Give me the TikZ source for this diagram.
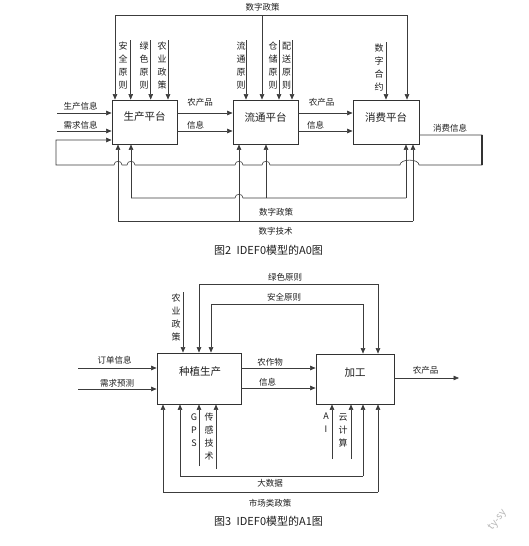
\documentclass[tikz,border=0pt]{standalone}
\usepackage{fontspec}
\setmainfont{Noto Sans CJK SC}
\usetikzlibrary{arrows.meta}
\definecolor{lc}{RGB}{60,60,60}
\definecolor{bc}{RGB}{50,50,50}
\definecolor{tc}{RGB}{30,30,30}
\begin{document}
\begin{tikzpicture}[x=1pt,y=-1pt,
  ln/.style={draw=lc, line width=0.6pt},
  arr/.style={ln, -{Triangle[length=5.5pt,width=4.5pt]}},
  box/.style={draw=bc, line width=0.8pt, inner sep=0pt},
  lab/.style={font=\fontsize{8.5}{10}\selectfont, text=tc, inner sep=0pt},
  vlab/.style={lab, align=center, font=\fontsize{9}{13}\selectfont},
  btxt/.style={font=\fontsize{10.5}{12}\selectfont, text=tc, inner sep=0pt},
  captxt/.style={font=\fontsize{11}{13}\selectfont, text=tc, inner sep=0pt}]
\fill[white] (0,0) rectangle (529,546);
\useasboundingbox (0,0) rectangle (529,546);

% ================= A0 =================
\node[box, minimum width=65pt, minimum height=44pt] (b1) at (144.5,122) {};
\node[box, minimum width=65pt, minimum height=44pt] (b2) at (265.5,122) {};
\node[box, minimum width=66pt, minimum height=44pt] (b3) at (386,122) {};
\node[btxt] (b1t) at (144.5,117) {生产平台};
\node[btxt] (b2t) at (265.5,117) {流通平台};
\node[btxt] (b3t) at (386,117) {消费平台};

% top digital policy
\coordinate (tpL) at (115,15);
\coordinate (tpM) at (262,15);
\coordinate (tpR) at (407,15);
\draw[ln] (tpL) -- (tpR);
\draw[arr] (tpL) -- (tpL |- b1.north);
\draw[arr] (tpM) -- (tpM |- b2.north);
\draw[arr] (tpR) -- (tpR |- b3.north);
\node[lab] (ltp) at (262.5,7) {数字政策};

% controls
\coordinate (k1) at (130.7,40);
\coordinate (k2) at (150.7,40);
\coordinate (k3) at (168,40);
\coordinate (k4) at (246,40);
\coordinate (k5) at (279,40);
\coordinate (k6) at (292,40);
\coordinate (k7) at (386,42);
\draw[arr] (k1) -- (k1 |- b1.north);
\draw[arr] (k2) -- (k2 |- b1.north);
\draw[arr] (k3) -- (k3 |- b1.north);
\draw[arr] (k4) -- (k4 |- b2.north);
\draw[arr] (k5) -- (k5 |- b2.north);
\draw[arr] (k6) -- (k6 |- b2.north);
\draw[arr] (k7) -- (k7 |- b3.north);
\node[vlab] (lk1) at (123,65.5) {安\\全\\原\\则};
\node[vlab] (lk2) at (144,65.5) {绿\\色\\原\\则};
\node[vlab] (lk3) at (162,65.5) {农\\业\\政\\策};
\node[vlab] (lk4) at (241,65.5) {流\\通\\原\\则};
\node[vlab] (lk5) at (273,65.5) {仓\\储\\原\\则};
\node[vlab] (lk6) at (286.5,65.5) {配\\送\\原\\则};
\node[vlab] (lk7) at (379,67.5) {数\\字\\合\\约};

% inputs
\coordinate (i1) at (57,113);
\coordinate (i2) at (57,131);
\draw[arr] (i1) -- (i1 -| b1.west);
\draw[arr] (i2) -- (i2 -| b1.west);
\node[lab] (li1) at (80.5,106.5) {生产信息};
\node[lab] (li2) at (80.5,125) {需求信息};

% outputs between platforms
\draw[arr] (b1.east |- i1) -- (b2.west |- i1);
\draw[arr] (b1.east |- i2) -- (b2.west |- i2);
\draw[arr] (b2.east |- i1) -- (b3.west |- i1);
\draw[arr] (b2.east |- i2) -- (b3.west |- i2);
\node[lab] (lo1) at (200,102) {农产品};
\node[lab] (lo2) at (195.5,125) {信息};
\node[lab] (lo3) at (321.5,102) {农产品};
\node[lab] (lo4) at (315.5,125) {信息};

% feedback loop
\coordinate (fb1) at (482,135);
\coordinate (fb2) at (482,165);
\coordinate (fb3) at (56,165);
\coordinate (fb4) at (56,140);
\draw[arr] (b3.east |- fb1) -- (fb1) -- (fb2) -- (419,165)
  .. controls (419,158.5) and (400,158.5) .. (400,165) -- (270,165)
  .. controls (270,160) and (262,160) .. (262,165) -- (243,165)
  .. controls (243,160) and (235,160) .. (235,165) -- (135,165)
  .. controls (135,160) and (127,160) .. (127,165) -- (122,165)
  .. controls (122,160) and (114,160) .. (114,165) -- (fb3) -- (fb4) -- (fb4 -| b1.west);
\draw[draw=bc, line width=2pt] (fb1) -- (fb2);
\node[lab] (lfb) at (450,128) {消费信息};

% mechanisms
\coordinate (m1) at (118,221);
\coordinate (m2) at (131,198);
\coordinate (m3) at (239,221);
\coordinate (m4) at (266,198);
\coordinate (m5) at (406,198);
\coordinate (m6) at (413,221);
\draw[ln] (m2) -- (235,198) .. controls (235,193) and (243,193) .. (243,198) -- (m5);
\draw[ln] (m1) -- (m6);
\draw[arr] (m1) -- (m1 |- b1.south);
\draw[arr] (m2) -- (m2 |- b1.south);
\draw[arr] (m3) -- (m3 |- b2.south);
\draw[arr] (m4) -- (m4 |- b2.south);
\draw[arr] (m5) -- (m5 |- b3.south);
\draw[arr] (m6) -- (m6 |- b3.south);
\node[lab] (lm1) at (276,212) {数字政策};
\node[lab] (lm2) at (275.5,231) {数字技术};

\node[captxt] (cap2) at (268.5,250) {图2\enspace IDEF0模型的A0图};

% ================= A1 =================
\node[box, minimum width=84pt, minimum height=51pt] (c1) at (199,378.5) {};
\node[box, minimum width=78pt, minimum height=50pt] (c2) at (355,379) {};
\node[btxt] (c1t) at (200,372) {种植生产};
\node[btxt] (c2t) at (355,373) {加工};

% inputs
\coordinate (j1) at (78,368);
\coordinate (j2) at (78,389);
\draw[arr] (j1) -- (j1 -| c1.west);
\draw[arr] (j2) -- (j2 -| c1.west);
\node[lab] (lj1) at (114.5,360) {订单信息};
\node[lab] (lj2) at (117,383) {需求预测};

% outputs
\coordinate (o1) at (241,368);
\coordinate (o2) at (241,388);
\coordinate (o3) at (459,378);
\draw[arr] (o1 -| c1.east) -- (o1 -| c2.west);
\draw[arr] (o2 -| c1.east) -- (o2 -| c2.west);
\draw[arr] (o3 -| c2.east) -- (o3);
\node[lab] (lo5) at (270,362) {农作物};
\node[lab] (lo6) at (267.5,382) {信息};
\node[lab] (lo7) at (425.5,370) {农产品};

% controls
\coordinate (n1) at (183,292);
\draw[arr] (n1) -- (n1 |- c1.north);
\node[vlab] (ln1) at (176,318) {农\\业\\政\\策};
\coordinate (g1) at (199,284);
\coordinate (g2) at (378,284);
\draw[ln] (g1) -- (g2);
\draw[arr] (g1) -- (g1 |- c1.north);
\draw[arr] (g2) -- (g2 |- c2.north);
\node[lab] (lg) at (285,277) {绿色原则};
\coordinate (s1) at (211,304);
\coordinate (s2) at (363,304);
\draw[ln] (s1) -- (s2);
\draw[arr] (s1) -- (s1 |- c1.north);
\draw[arr] (s2) -- (s2 |- c2.north);
\node[lab] (ls) at (284,297) {安全原则};

% mechanisms
\coordinate (p1) at (163,492);
\coordinate (p2) at (378,492);
\draw[ln] (p1) -- (p2);
\draw[arr] (p1) -- (p1 |- c1.south);
\draw[arr] (p2) -- (p2 |- c2.south);
\node[lab] (lp) at (270,503) {市场类政策};
\coordinate (d1) at (180,476);
\coordinate (d2) at (363,476);
\draw[ln] (d1) -- (d2);
\draw[arr] (d1) -- (d1 |- c1.south);
\draw[arr] (d2) -- (d2 |- c2.south);
\node[lab] (ld) at (270,483) {大数据};
\coordinate (q1) at (199,466);
\coordinate (q2) at (216,469);
\coordinate (q3) at (332,459);
\coordinate (q4) at (351,459);
\draw[arr] (q1) -- (q1 |- c1.south);
\draw[arr] (q2) -- (q2 |- c1.south);
\draw[arr] (q3) -- (q3 |- c2.south);
\draw[arr] (q4) -- (q4 |- c2.south);
\node[vlab] (lq1) at (194,430) {G\\P\\S};
\node[vlab] (lq2) at (209,436.5) {传\\感\\技\\术};
\node[vlab] (lq3) at (326,422.5) {A\\I};
\node[vlab] (lq4) at (343,430) {云\\计\\算};

\node[captxt] (cap3) at (268.5,521) {图3\enspace IDEF0模型的A1图};

\node[rotate=52, text=black!28, font=\fontsize{10}{12}\selectfont, inner sep=0pt] (wm) at (498,520) {ty-sy};
\end{tikzpicture}
\end{document}
